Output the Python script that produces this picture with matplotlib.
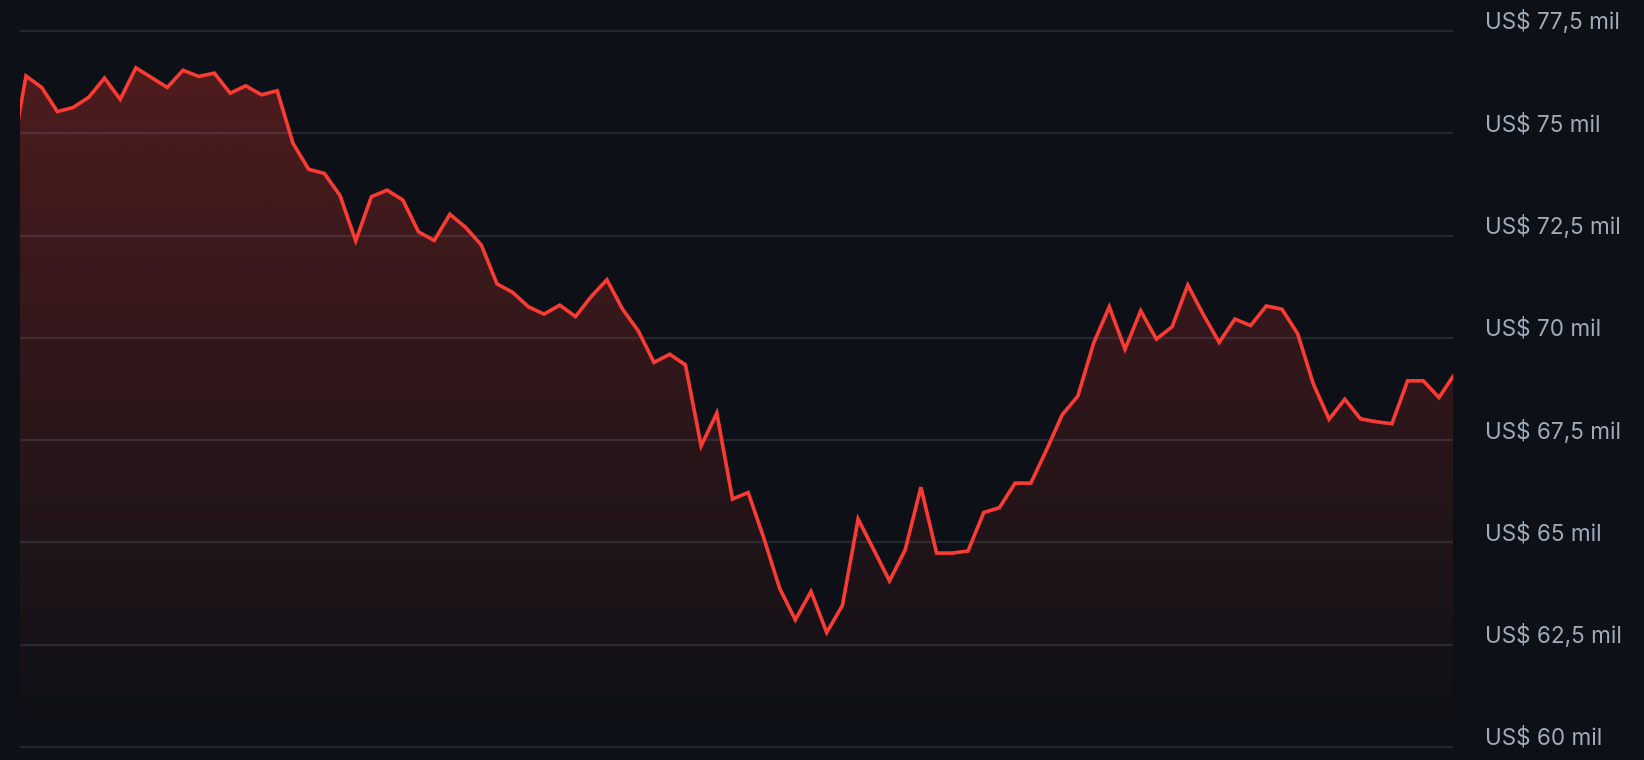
import numpy as np
import matplotlib
matplotlib.use("Agg")
import matplotlib.pyplot as plt
from matplotlib.transforms import ScaledTranslation
from matplotlib.patches import Polygon

# ---- data (price in thousands of US$) ----
prices = [
    74.23, 76.40, 76.12, 75.53, 75.63, 75.88, 76.35, 75.83, 76.60, 76.36,
    76.12, 76.54, 76.39, 76.47, 75.98, 76.16, 75.94, 76.04, 74.76, 74.12,
    74.02, 73.48, 72.37, 73.45, 73.61, 73.37, 72.59, 72.38, 73.02, 72.70,
    72.27, 71.32, 71.11, 70.76, 70.58, 70.80, 70.52, 71.01, 71.42, 70.70,
    70.17, 69.40, 69.60, 69.34, 67.36, 68.16, 66.06, 66.22, 65.10, 63.88,
    63.11, 63.80, 62.80, 63.46, 65.57, 64.82, 64.06, 64.82, 66.35, 64.74,
    64.74, 64.79, 65.73, 65.85, 66.45, 66.45, 67.26, 68.12, 68.58, 69.87,
    70.76, 69.72, 70.66, 69.97, 70.27, 71.29, 70.56, 69.89, 70.46, 70.30,
    70.78, 70.70, 70.10, 68.87, 68.01, 68.50, 68.02, 67.95, 67.90, 68.95,
    68.95, 68.54, 69.12,
]
y_ticks = [60, 62.5, 65, 67.5, 70, 72.5, 75, 77.5]
y_labels = ["US$ 60 mil", "US$ 62,5 mil", "US$ 65 mil", "US$ 67,5 mil",
            "US$ 70 mil", "US$ 72,5 mil", "US$ 75 mil", "US$ 77,5 mil"]

BG = "#0d1117"
LINE = "#fa3b33"
TEXT = "#9eabbd"

W, H = 1644, 760
fig = plt.figure(figsize=(W / 100, H / 100), dpi=100, facecolor=BG)
ax = fig.add_axes([20 / W, 0, 1433 / W, 1])
ax.set_facecolor(BG)

x = np.arange(len(prices))
y = np.array(prices)

base = y_ticks[0]
top = y.max()

# gradient fill under the line
poly_xy = np.vstack([np.column_stack([x, y]), [[x[-1], base], [x[0], base]]])
poly = Polygon(poly_xy, closed=True, facecolor="none", edgecolor="none")
ax.add_patch(poly)
n = 256
alpha = np.linspace(0.27, 0.0, n)
rgba = np.zeros((n, 1, 4))
rgba[..., 0] = 1.0
rgba[..., 1] = 59 / 255
rgba[..., 2] = 48 / 255
rgba[:, 0, 3] = alpha
im = ax.imshow(rgba, extent=[x[0], x[-1], base, top], aspect="auto",
               origin="upper", zorder=1, interpolation="bilinear")
im.set_clip_path(poly)

ax.plot(x, y, color=LINE, linewidth=2.6, zorder=3, solid_joinstyle="miter")

# scales
px_per_unit = 102.3 / 2.5
ax.set_ylim(base - 13 / px_per_unit, 77.5 + 31 / px_per_unit)
x_step = 15.7
x_first = 10.3
ax.set_xlim((20 - x_first) / x_step, (1453 - x_first) / x_step)

# grid
ax.set_axisbelow(False)
ax.set_yticks(y_ticks)
ax.set_yticklabels(y_labels)
ax.yaxis.grid(True, color="#a0b9d2", alpha=0.14, linewidth=1.6)
ax.xaxis.grid(False)
ax.set_xticks([])
ax.yaxis.tick_right()
ax.tick_params(axis="y", length=0, pad=23, labelsize=16.2, labelcolor=TEXT)
for lab in ax.get_yticklabels():
    lab.set_fontfamily(["Inter", "DejaVu Sans"])
    lab.set_transform(lab.get_transform() + ScaledTranslation(0, 11.0 / 100, fig.dpi_scale_trans))
for s in ax.spines.values():
    s.set_visible(False)

fig.savefig("out.png", dpi=100, facecolor=BG)
